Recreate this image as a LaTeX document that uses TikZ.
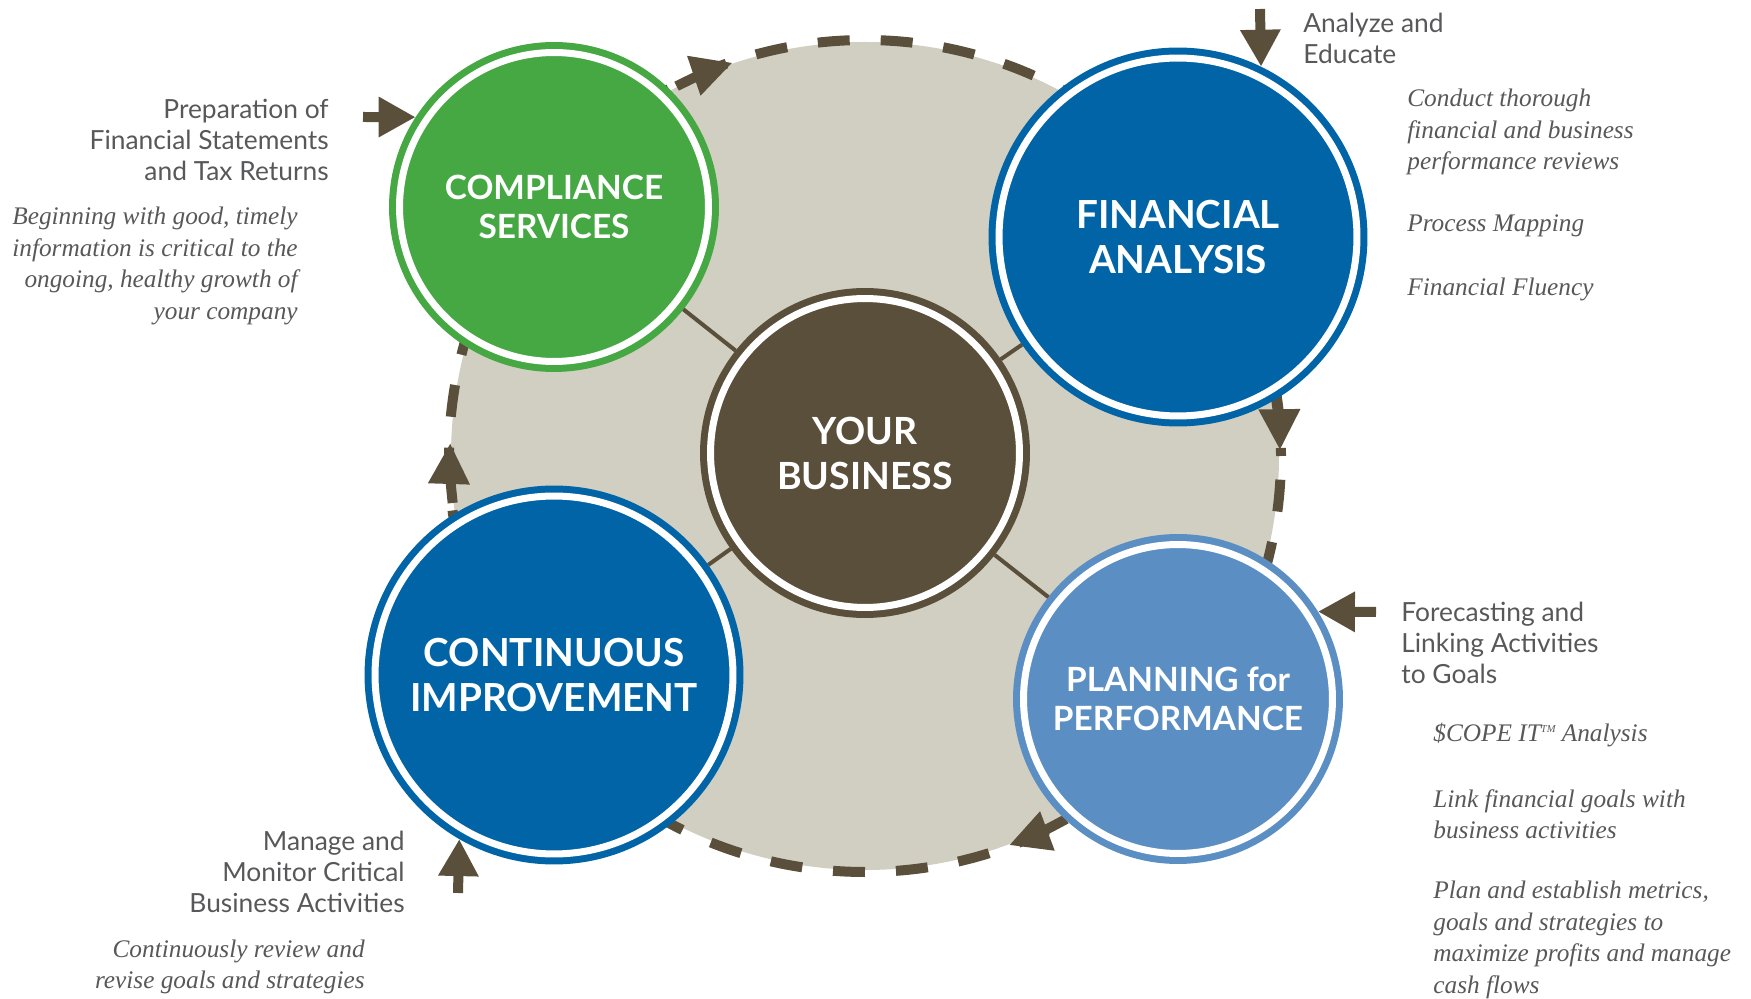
\documentclass[tikz,border=0pt]{standalone}
\usepackage{fontspec}
\usepackage{tikz}
\usetikzlibrary{arrows.meta}
\newfontfamily\labelfont{Lato}
\newfontfamily\notefont{Liberation Serif}

\definecolor{cgreen}{HTML}{45A843}
\definecolor{cblue}{HTML}{0064A6}
\definecolor{clight}{HTML}{5B8FC3}
\definecolor{cbrown}{HTML}{5A4F3A}
\definecolor{cbeige}{HTML}{D1CEC2}
\definecolor{cgrey}{HTML}{58585A}

\begin{document}
\begin{tikzpicture}[x=0.02cm, y=0.02cm,
    disc/.style={circle, fill=#1, draw=#1, double=white, line width=0.14cm, double distance=0.14cm, outer sep=0.21cm, inner sep=0pt, text=white, align=center},
    smalldisc/.style={minimum size=6.18cm, font=\labelfont\bfseries\fontsize{19}{22}\selectfont},
    bigdisc/.style={minimum size=7.16cm, font=\labelfont\bfseries\fontsize{22}{25.6}\selectfont},
    spoke/.style={cbrown, line width=0.08cm},
    push/.style={cbrown, line width=0.2cm, -{Triangle[length=0.74cm, width=0.76cm]}},
    turn/.style={cbrown, line width=0.2cm, -{Triangle[length=0.82cm, width=0.78cm]}},
    topic/.style={text=cgrey, inner sep=0pt, font=\labelfont\fontsize{15}{17.6}\selectfont},
    detail/.style={text=cgrey, inner sep=0pt, font=\notefont\itshape\fontsize{14.4}{17.9}\selectfont}]
    \useasboundingbox (0,0) rectangle (1751,998);
    % Draw the cycle behind everything
    \coordinate (hub) at (865,542);
    \fill[cbeige] (hub) circle (414);
    \draw[cbrown, line width=0.2cm, dash pattern=on 0.64cm off 0.62cm, dash phase=0.48cm] (hub) circle (416);
    \draw[turn] (hub) ++(117:415) arc[start angle=117, end angle=108.6, radius=415];
    \draw[turn] (hub) ++(9:415) arc[start angle=9, end angle=0.8, radius=415];
    \draw[turn] (hub) ++(-61:415) arc[start angle=-61, end angle=-69.7, radius=415];
    \draw[turn] (hub) ++(186.5:415) arc[start angle=186.5, end angle=178.2, radius=415];
    % Draw the five circles
    \node[disc=cbrown, smalldisc, font=\labelfont\bfseries\fontsize{21.3}{25.6}\selectfont] (biz) at (865,545) {YOUR\\BUSINESS};
    \node[disc=cgreen, smalldisc] (comp) at (554,791) {COMPLIANCE\\SERVICES};
    \node[disc=cblue, bigdisc] (fin) at (1178,761) {FINANCIAL\\ANALYSIS};
    \node[disc=cblue, bigdisc] (cont) at (554,323) {CONTINUOUS\\IMPROVEMENT};
    \node[disc=clight, smalldisc] (plan) at (1178,299) {PLANNING for\\PERFORMANCE};
    \draw[spoke] (biz) -- (comp);
    \draw[spoke] (biz) -- (fin);
    \draw[spoke] (biz) -- (cont);
    \draw[spoke] (biz) -- (plan);
    % Arrows coming in from the labels
    \coordinate (prepfrom) at (363,881);
    \coordinate (anfrom) at (1260,989);
    \coordinate (forefrom) at (1376,386);
    \coordinate (manfrom) at (458,105);
    \draw[push] (prepfrom) -- (comp.147);
    \draw[push] (anfrom) -- (fin.64);
    \draw[push] (forefrom) -- (plan.32);
    \draw[push] (manfrom) -- (cont.-120);
    % Labels
    \node[topic, anchor=east, align=right] (prep) at (329,858) {Preparation of\\Financial Statements\\and Tax Returns};
    \node[detail, anchor=east, align=right] (prepnote) at (298,732) {Beginning with good, timely\\information is critical to the\\ongoing, healthy growth of\\your company};
    \node[topic, anchor=west, align=left] (analyze) at (1303,960) {Analyze and\\Educate};
    \node[detail, anchor=west, align=left] (reviews) at (1407,866) {Conduct thorough\\financial and business\\performance reviews};
    \node[detail, anchor=west] (mapping) at (1407,772) {Process Mapping};
    \node[detail, anchor=west] (fluency) at (1407,709) {Financial Fluency};
    \node[topic, anchor=west, align=left] (forecast) at (1401,355) {Forecasting and\\Linking Activities\\to Goals};
    \node[detail, anchor=west] (scope) at (1433,263) {\$COPE IT\raisebox{0.75ex}{\fontsize{6}{6}\selectfont TM} Analysis};
    \node[detail, anchor=west, align=left] (link) at (1433,184) {Link financial goals with\\business activities};
    \node[detail, anchor=west, align=left] (metrics) at (1433,58) {Plan and establish metrics,\\goals and strategies to\\maximize profits and manage\\cash flows};
    \node[topic, anchor=east, align=right] (manage) at (405,126) {Manage and\\Monitor Critical\\Business Activities};
    \node[detail, anchor=east, align=right] (revise) at (365,31) {Continuously review and\\revise goals and strategies};
\end{tikzpicture}
\end{document}
